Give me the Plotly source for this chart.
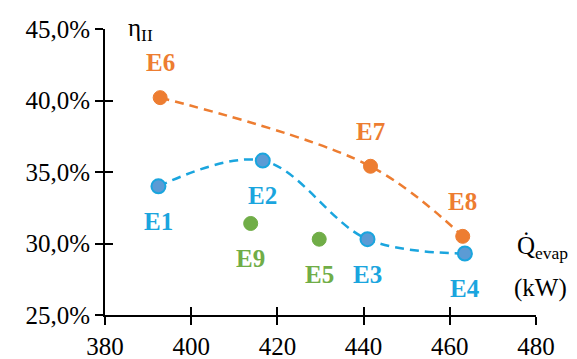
import plotly.graph_objects as go

# Data (x: evaporator heat, kW; y: second-law efficiency, fraction)
blue_names = ["E1", "E2", "E3", "E4"]
blue_x = [392.4, 416.6, 440.9, 463.5]
blue_y = [0.340, 0.358, 0.303, 0.293]

orange_names = ["E6", "E7", "E8"]
orange_x = [392.8, 441.6, 463.0]
orange_y = [0.402, 0.354, 0.305]

green_names = ["E9", "E5"]
green_x = [413.8, 429.7]
green_y = [0.314, 0.303]

# label placement: +1 above, -1 below
blue_pos = [-1, -1, -1, -1]
orange_pos = [1, 1, 1]
green_pos = [-1, -1]

x_ticks = [380, 400, 420, 440, 460, 480]
y_ticks = [0.25, 0.30, 0.35, 0.40, 0.45]

BLUE_LINE = "#1AA5DE"
BLUE_FILL = "#5B9BD5"
ORANGE = "#ED7D31"
GREEN = "#70AD47"
FONT = "Liberation Serif, Times New Roman, serif"

fig = go.Figure()

fig.add_trace(go.Scatter(x=blue_x, y=blue_y, mode="lines",
                         line=dict(color=BLUE_LINE, width=2.5, dash="9px,6px", shape="spline", smoothing=1.0),
                         hoverinfo="skip", showlegend=False))
fig.add_trace(go.Scatter(x=orange_x, y=orange_y, mode="lines",
                         line=dict(color=ORANGE, width=2.5, dash="9px,6px", shape="spline", smoothing=1.0),
                         hoverinfo="skip", showlegend=False))

fig.add_trace(go.Scatter(x=blue_x, y=blue_y, mode="markers",
                         marker=dict(size=14, color=BLUE_FILL, line=dict(color=BLUE_LINE, width=2)),
                         showlegend=False))
fig.add_trace(go.Scatter(x=orange_x, y=orange_y, mode="markers",
                         marker=dict(size=14, color=ORANGE, line=dict(color=ORANGE, width=1)),
                         showlegend=False))
# green points drawn on the matched overlay axes (which supply the inward half of the crossing ticks)
fig.add_trace(go.Scatter(x=green_x, y=green_y, mode="markers", xaxis="x2", yaxis="y2",
                         marker=dict(size=14, color=GREEN, line=dict(color=GREEN, width=1)),
                         showlegend=False))

annotations = []
for names, xs, ys, pos, col in [
    (blue_names, blue_x, blue_y, blue_pos, BLUE_LINE),
    (orange_names, orange_x, orange_y, orange_pos, ORANGE),
    (green_names, green_x, green_y, green_pos, GREEN),
]:
    for n, x, y, p in zip(names, xs, ys, pos):
        annotations.append(dict(x=x, y=y, xref="x", yref="y", text="<b>%s</b>" % n,
                                showarrow=False, yshift=35 * p,
                                font=dict(family=FONT, size=25, color=col)))

annotations.append(dict(xref="paper", yref="paper", x=0.048, y=1.0, xanchor="left", yanchor="middle",
                        text="η<sub>II</sub>", showarrow=False,
                        font=dict(family=FONT, size=25, color="black")))
annotations.append(dict(xref="paper", yref="paper", x=1.08, y=0.235, xanchor="right", yanchor="middle",
                        text="Q\u0307<sub>evap</sub>", showarrow=False,
                        font=dict(family=FONT, size=25, color="black")))
annotations.append(dict(xref="paper", yref="paper", x=1.01, y=0.095, xanchor="center", yanchor="middle",
                        text="(kW)", showarrow=False,
                        font=dict(family=FONT, size=25, color="black")))

axis_common = dict(showgrid=False, zeroline=False, showline=True, linecolor="black", linewidth=1.6,
                   tickcolor="black", tickwidth=1.6, ticklen=8, automargin=False,
                   tickfont=dict(family=FONT, size=25, color="black"))

fig.update_layout(
    width=577, height=359,
    margin=dict(l=105, r=41, t=29, b=44, autoexpand=False),
    plot_bgcolor="white", paper_bgcolor="white",
    separators=",.",
    font=dict(family=FONT, size=25, color="black"),
    annotations=annotations,
    xaxis=dict(range=[380, 480], tickvals=x_ticks, ticks="outside", **axis_common),
    yaxis=dict(range=[0.25, 0.45], tickvals=y_ticks, tickformat=".1%", ticks="outside", **axis_common),
    xaxis2=dict(overlaying="x", matches="x", range=[380, 480], tickvals=x_ticks, ticks="inside",
                showticklabels=False, side="bottom", anchor="y2", **axis_common),
    yaxis2=dict(overlaying="y", matches="y", range=[0.25, 0.45], tickvals=y_ticks, ticks="inside",
                showticklabels=False, side="left", anchor="x2", **axis_common),
)

fig.write_html("out.html", config={"displayModeBar": False},
               post_script="document.body.style.margin='0';document.body.style.overflow='hidden';")
